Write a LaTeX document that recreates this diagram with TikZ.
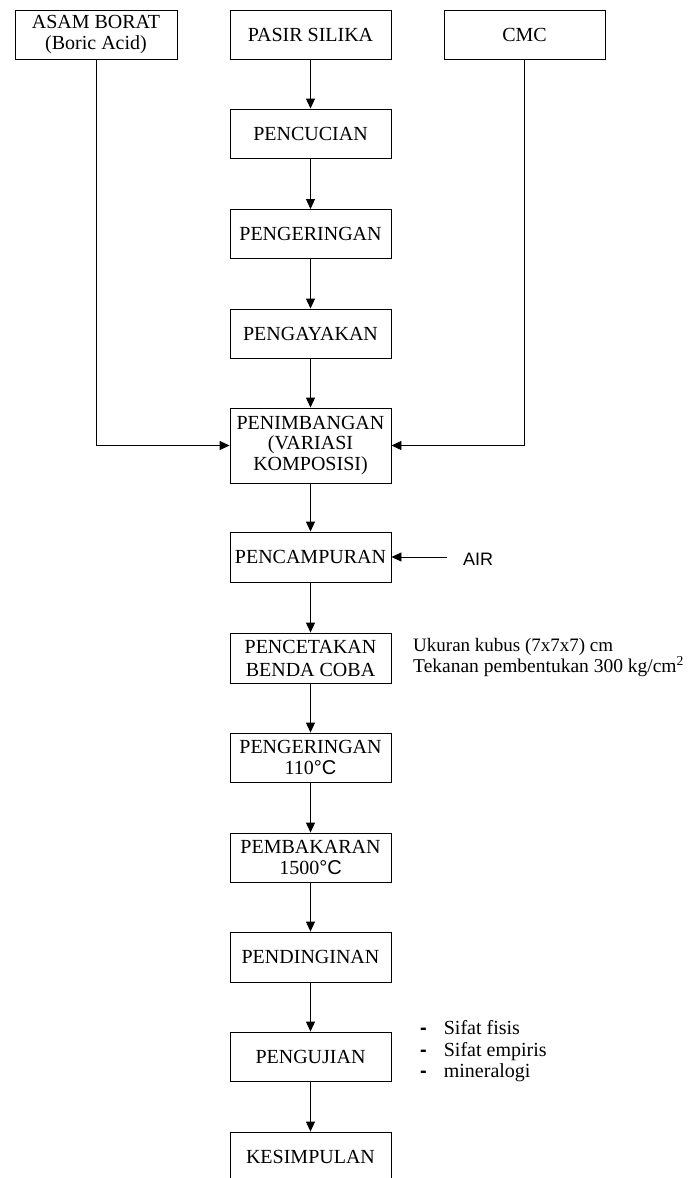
\documentclass[tikz,border=0pt]{standalone}
\usepackage{fontspec}
\setmainfont{Liberation Serif}
\newfontfamily\arialf{Liberation Sans}
\usetikzlibrary{arrows.meta}
\begin{document}
\begin{tikzpicture}[x=1pt,y=-1pt,
  box/.style={draw, line width=0.9pt, minimum width=161pt, minimum height=49pt,
    inner sep=0pt, align=center, font=\fontsize{20}{21}\selectfont},
  arr/.style={-{Triangle[length=10pt,width=9pt]}, line width=0.9pt},
  ln/.style={line width=0.9pt},
  side/.style={inner sep=0pt, anchor=west, align=left}]
\useasboundingbox (0,0) rectangle (694,1178);
\clip (0,0) rectangle (694,1178);
% top row
\node[box, minimum width=162pt] (asam) at (96,34.5) {ASAM BORAT\\(Boric Acid)};
\node[box] (pasir) at (310.5,34.5) {PASIR SILIKA};
\node[box] (cmc) at (524.5,34.5) {CMC};
% main column
\node[box] (cuci) at (310.5,133.5) {PENCUCIAN};
\node[box] (kering) at (310.5,234) {PENGERINGAN};
\node[box] (ayak) at (310.5,333.5) {PENGAYAKAN};
\node[box, minimum height=75pt, font=\fontsize{20}{20.5}\selectfont] (timbang) at (310.5,445.5) {PENIMBANGAN\\(VARIASI\\KOMPOSISI)};
\node[box, minimum height=50pt] (campur) at (310.5,557) {PENCAMPURAN};
\node[box, minimum height=50pt, font=\fontsize{20}{23}\selectfont] (cetak) at (310.5,658) {PENCETAKAN\\BENDA COBA};
\node[box] (kering2) at (310.5,757.5) {PENGERINGAN\\110{\arialf °C}};
\node[box] (bakar) at (310.5,857.5) {PEMBAKARAN\\1500{\arialf °C}};
\node[box, minimum height=50pt] (dingin) at (310.5,957) {PENDINGINAN};
\node[box] (uji) at (310.5,1056.5) {PENGUJIAN};
\node[box, minimum height=50pt] (simpul) at (310.5,1157) {KESIMPULAN};
% side texts
\node[side, font=\arialf\fontsize{18}{20}\selectfont] (air) at (463,559) {AIR};
\coordinate (airs) at (447,557);
\node[side, font=\fontsize{19}{20.5}\selectfont] (ukuran) at (413,657.5)
  {Ukuran kubus (7x7x7) cm\\\fontsize{19.5}{20.5}\selectfont Tekanan pembentukan 300 kg/cm\textsuperscript{2}};
\node[side, font=\fontsize{20}{21.5}\selectfont] (sifat) at (420,1051.5)
  {{\arialf\bfseries -}\hspace{17pt}Sifat fisis\\{\arialf\bfseries -}\hspace{17pt}Sifat empiris\\{\arialf\bfseries -}\hspace{17pt}mineralogi};
% connectors
\draw[arr] (pasir) -- (cuci);
\draw[arr] (cuci) -- (kering);
\draw[arr] (kering) -- (ayak);
\draw[arr] (ayak) -- (timbang);
\draw[arr] (asam.south) |- (timbang.west);
\draw[arr] (cmc.south) |- (timbang.east);
\draw[arr] (timbang) -- (campur);
\draw[arr] (airs) -- (campur.east);
\draw[arr] (campur) -- (cetak);
\draw[arr] (cetak) -- (kering2);
\draw[arr] (kering2) -- (bakar);
\draw[arr] (bakar) -- (dingin);
\draw[arr] (dingin) -- (uji);
\draw[arr] (uji) -- (simpul);
\end{tikzpicture}
\end{document}
